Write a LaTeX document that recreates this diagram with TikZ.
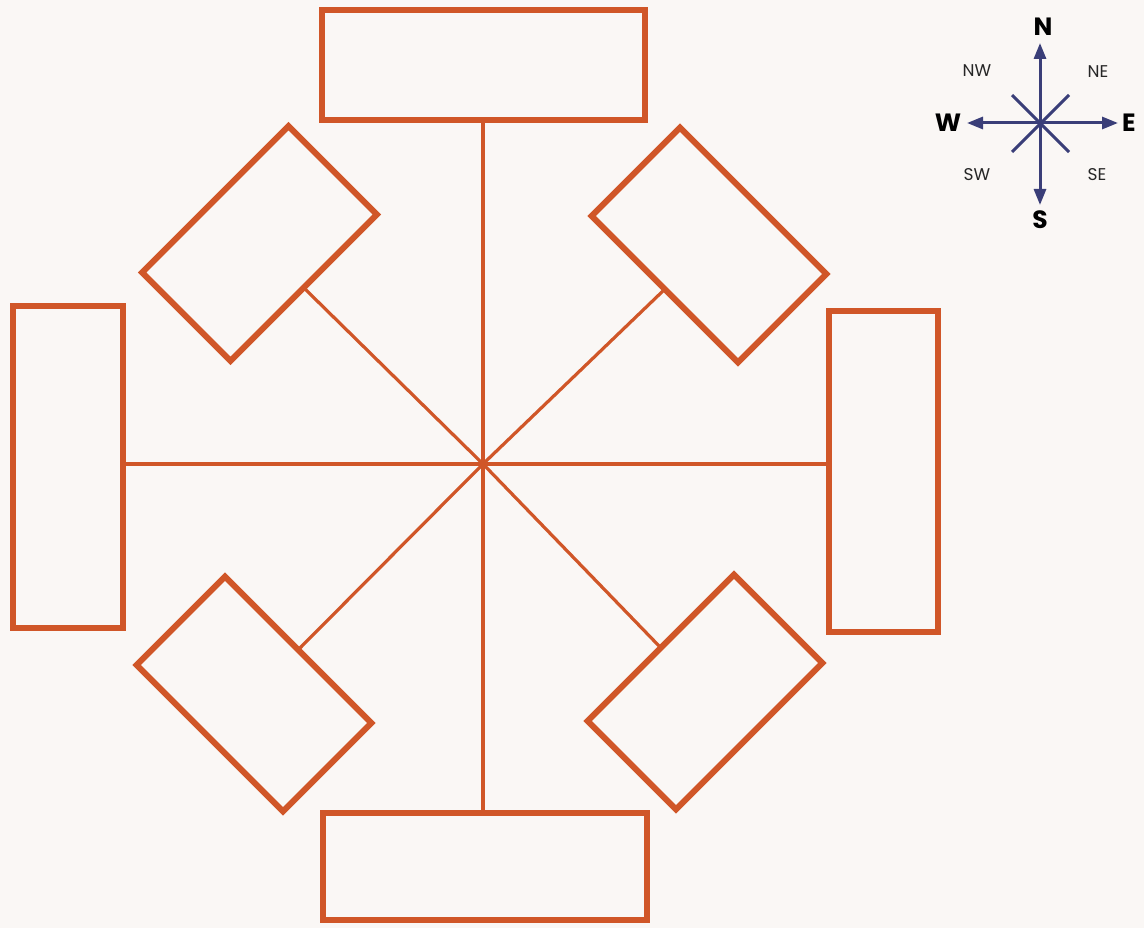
\documentclass[tikz,border=0pt]{standalone}
\usepackage{fontspec}
\newfontfamily\compassfont{Poppins}
\usetikzlibrary{arrows.meta}
\definecolor{boxorange}{RGB}{208,86,40}
\definecolor{compassblue}{RGB}{58,62,120}
\definecolor{paper}{RGB}{250,247,245}
\tikzset{
  box/.style={draw=boxorange, line width=6pt, minimum width=#1, inner sep=0pt, outer sep=0pt},
  spoke/.style={draw=boxorange, line width=3.2pt},
  needle/.style={draw=compassblue, line width=3pt},
  needlearrow/.style={needle, -{Triangle[length=16pt,width=12pt]}},
  maindir/.style={font=\compassfont\bfseries\fontsize{25}{25}\selectfont, text=black, inner sep=0pt},
  subdir/.style={font=\compassfont\fontsize{17}{17}\selectfont, text=black!85, inner sep=0pt},
}
\begin{document}
\begin{tikzpicture}[x=1pt,y=-1pt]
  \fill[paper] (0,0) rectangle (1144,928);
  \useasboundingbox (0,0) rectangle (1144,928);

  \coordinate (c) at (483,464);

  % straight boxes
  \node[box=323pt, minimum height=110pt] (top) at (483,65) {};
  \node[box=324pt, minimum height=107pt] (bottom) at (485,866.5) {};
  \node[box=110pt, minimum height=322pt] (left) at (68,467) {};
  \node[box=109pt, minimum height=321pt] (right) at (883.5,471.5) {};

  % diagonal boxes
  \node[box=207pt, minimum height=125pt, rotate=45] (nw) at (259.5,243.5) {};
  \node[box=207pt, minimum height=125pt, rotate=-45] (ne) at (709,245) {};
  \node[box=207pt, minimum height=125pt, rotate=-45] (sw) at (254,694) {};
  \node[box=207pt, minimum height=125pt, rotate=45] (se) at (705,692) {};

  % spokes
  \draw[spoke] (c) -- (c |- top.south);
  \draw[spoke] (c) -- (c |- bottom.north);
  \draw[spoke] (c) -- (c -| left.east);
  \draw[spoke] (c) -- (c -| right.west);
  \draw[spoke] (c) -- (nw.south);
  \draw[spoke] (c) -- (ne.south);
  \draw[spoke] (c) -- (sw.north);
  \draw[spoke] (c) -- (se.north);

  % compass rose
  \coordinate (cc) at (1040,123);
  \coordinate (cn) at (1040,43);
  \coordinate (cs) at (1040,205);
  \coordinate (cw) at (967,123);
  \coordinate (ce) at (1118,123);
  \coordinate (cnw) at (1012,95);
  \coordinate (cne) at (1069,95);
  \coordinate (csw) at (1012,152);
  \coordinate (cse) at (1069,152);

  \draw[needle] (cnw) -- (cse);
  \draw[needle] (cne) -- (csw);
  \draw[needlearrow] (cc) -- (cn);
  \draw[needlearrow] (cc) -- (cs);
  \draw[needlearrow] (cc) -- (cw);
  \draw[needlearrow] (cc) -- (ce);

  \node[maindir] (ln) at (1043,27) {N};
  \node[maindir] (ls) at (1040,220) {S};
  \node[maindir] (lw) at (948,123) {W};
  \node[maindir] (le) at (1129,123) {E};
  \node[subdir] (lnw) at (977,71) {NW};
  \node[subdir] (lne) at (1098,72) {NE};
  \node[subdir] (lsw) at (977,175) {SW};
  \node[subdir] (lse) at (1097,175) {SE};
\end{tikzpicture}
\end{document}
